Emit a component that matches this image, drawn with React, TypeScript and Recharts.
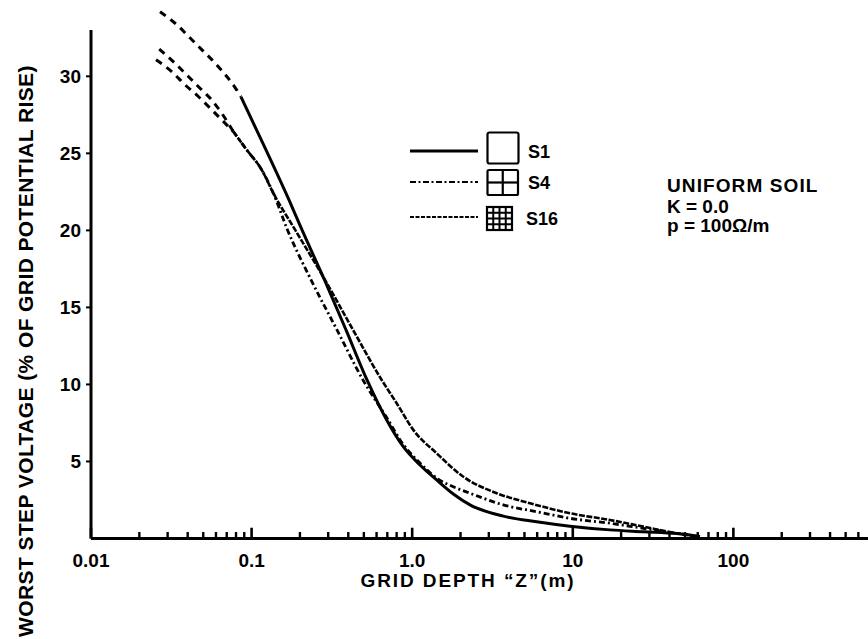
import React from 'react';
import { LineChart, Line, XAxis, YAxis, ReferenceLine, Legend } from 'recharts';

// ---------- data (grid depth in m, worst step voltage in % of GPR) ----------
const S1_EXT_DEPTH = [0.0269, 0.0348, 0.0413, 0.0491, 0.0567, 0.0654, 0.0799, 0.0859];
const S1_EXT_VOLT = [34.19, 33.28, 32.5, 31.72, 31.07, 30.36, 29.19, 28.67];

const S1_DEPTH = [0.0859, 0.1229, 0.1709, 0.206, 0.2844, 0.3871, 0.5233, 0.6937, 0.88, 1.118, 1.42, 1.803, 2.291, 3.691, 5.96, 9.61, 17.04, 27.5, 44.4, 61.9];
const S1_VOLT = [28.67, 25.23, 21.98, 20.03, 16.79, 13.54, 10.29, 7.69, 5.96, 4.77, 3.8, 2.89, 2.18, 1.45, 1.09, 0.8, 0.56, 0.44, 0.32, 0.13];

const S4_EXT_DEPTH = [0.0266, 0.0325, 0.0394, 0.0477, 0.0564, 0.0651, 0.0769];
const S4_EXT_VOLT = [31.77, 30.96, 30.1, 29.23, 28.47, 27.61, 26.42];

const S4_DEPTH = [0.0769, 0.0932, 0.1156, 0.1365, 0.1673, 0.2344, 0.3402, 0.4938, 0.6937, 0.88, 1.118, 1.42, 1.803, 2.291, 3.691, 5.96, 9.61, 17.04, 27.5, 44.4, 61.9];
const S4_VOLT = [26.42, 25.23, 23.93, 22.42, 20.03, 16.79, 13.54, 10.29, 7.85, 6.1, 4.9, 3.92, 3.36, 2.94, 2.18, 1.74, 1.31, 0.99, 0.66, 0.34, 0.13];

const S16_EXT_DEPTH = [0.0254, 0.0318, 0.0385, 0.0466, 0.0551, 0.0651, 0.0769];
const S16_EXT_VOLT = [31.07, 30.31, 29.45, 28.69, 27.94, 27.18, 26.42];

const S16_DEPTH = [0.0769, 0.0932, 0.1156, 0.1365, 0.1868, 0.2864, 0.428, 0.6457, 0.8006, 1.016, 1.42, 2.081, 3.359, 5.414, 9.61, 17.04, 27.5, 44.4, 61.9];
const S16_VOLT = [26.42, 25.23, 23.93, 22.42, 20.03, 16.79, 13.54, 10.29, 8.78, 7.05, 5.53, 4.01, 2.94, 2.29, 1.64, 1.2, 0.77, 0.34, 0.13];

const DECADE_TICKS = [0.01, 0.1, 1, 10, 100];
const DECADE_LABELS = ['0.01', '0.1', '1.0', '10', '100'];
const MINOR_MULTIPLIERS = [2, 3, 4, 5, 6, 7, 8, 9];
const Y_TICKS = [5, 10, 15, 20, 25, 30];
const X_DOMAIN: [number, number] = [0.01, 689];
const Y_DOMAIN: [number, number] = [0, 34.5];
const Y_AXIS_TOP = 33;
const MAJOR_TICK_LEN = 0.7; // in axis units (≈11px)
const MINOR_TICK_LEN = 0.42; // in axis units (≈6.5px)

const SERIES_NAMES = ['S1', 'S4', 'S16'];
const NOTE_LINES = ['UNIFORM SOIL', 'K = 0.0', 'p = 100\u03A9/m'];
const X_TITLE = 'GRID DEPTH \u201CZ\u201D(m)';
const Y_TITLE = 'WORST STEP VOLTAGE (% OF GRID POTENTIAL RISE)';

// ---------- helpers ----------
const toPoints = (xs: number[], ys: number[]) => xs.map((x, i) => ({ depth: x, volt: ys[i] }));

const s1Ext = toPoints(S1_EXT_DEPTH, S1_EXT_VOLT);
const s1 = toPoints(S1_DEPTH, S1_VOLT);
const s4Ext = toPoints(S4_EXT_DEPTH, S4_EXT_VOLT);
const s4 = toPoints(S4_DEPTH, S4_VOLT);
const s16Ext = toPoints(S16_EXT_DEPTH, S16_EXT_VOLT);
const s16 = toPoints(S16_DEPTH, S16_VOLT);

const MINOR_TICKS: number[] = [];
DECADE_TICKS.forEach((d) => {
  MINOR_MULTIPLIERS.forEach((m) => {
    const v = +(d * m).toPrecision(3);
    if (v <= X_DOMAIN[1]) MINOR_TICKS.push(v);
  });
});

const FONT = "'Liberation Sans', Arial, Helvetica, sans-serif";
const INK = '#000';

const XTick = (props: any) => {
  const { x, y, payload } = props;
  const v = payload.value as number;
  const idx = DECADE_TICKS.findIndex((d) => Math.abs(d - v) / d < 1e-6);
  if (idx < 0) return <g />;
  return (
    <text x={x} y={y + 28.5} textAnchor="middle" fontFamily={FONT} fontWeight="bold" fontSize={19} fill={INK}>
      {DECADE_LABELS[idx]}
    </text>
  );
};

const XTitle = () => (
  <text x={468} y={587} textAnchor="middle" fontFamily={FONT} fontWeight="bold" fontSize={19} letterSpacing={1.9} fill={INK}>
    {X_TITLE}
  </text>
);

const YTitle = () => (
  <text
    x={32.5}
    y={351}
    transform="rotate(-90 32.5 351)"
    textAnchor="middle"
    fontFamily={FONT}
    fontWeight="bold"
    fontSize={21}
    letterSpacing={0.4}
    fill={INK}
  >
    {Y_TITLE}
  </text>
);

const LegendAndNote = () => {
  const lineX1 = 410;
  const lineX2 = 478;
  const textStyle = { fontFamily: FONT, fontWeight: 'bold' as const, fontSize: 18, fill: INK };
  const s16Box = { x: 487, y: 207, w: 25, h: 23 };
  return (
    <svg width={868} height={639} style={{ display: 'block' }}>
      {/* S1 */}
      <line x1={lineX1} x2={lineX2} y1={151} y2={151} stroke={INK} strokeWidth={3} />
      <rect x={487.5} y={132.5} width={31} height={31} rx={2} fill="none" stroke={INK} strokeWidth={2.2} />
      <text x={528} y={157.5} {...textStyle}>{SERIES_NAMES[0]}</text>
      {/* S4 */}
      <line x1={lineX1} x2={lineX2} y1={182} y2={182} stroke={INK} strokeWidth={2.2} strokeDasharray="6 2.5 2 2.5" />
      <rect x={487.5} y={170} width={30.5} height={25} rx={1.5} fill="none" stroke={INK} strokeWidth={2.2} />
      <line x1={502.75} x2={502.75} y1={170} y2={195} stroke={INK} strokeWidth={2.2} />
      <line x1={487.5} x2={518} y1={182.5} y2={182.5} stroke={INK} strokeWidth={2.2} />
      <text x={528} y={189} {...textStyle}>{SERIES_NAMES[1]}</text>
      {/* S16 */}
      <line x1={lineX1} x2={lineX2} y1={217} y2={217} stroke={INK} strokeWidth={2.2} strokeDasharray="4 1.5" />
      <rect x={s16Box.x} y={s16Box.y} width={s16Box.w} height={s16Box.h} fill="none" stroke={INK} strokeWidth={2.2} />
      {[1, 2, 3].map((k) => (
        <g key={k}>
          <line
            x1={s16Box.x + (s16Box.w * k) / 4}
            x2={s16Box.x + (s16Box.w * k) / 4}
            y1={s16Box.y}
            y2={s16Box.y + s16Box.h}
            stroke={INK}
            strokeWidth={2}
          />
          <line
            x1={s16Box.x}
            x2={s16Box.x + s16Box.w}
            y1={s16Box.y + (s16Box.h * k) / 4}
            y2={s16Box.y + (s16Box.h * k) / 4}
            stroke={INK}
            strokeWidth={2}
          />
        </g>
      ))}
      <text x={526} y={224.5} {...textStyle}>{SERIES_NAMES[2]}</text>
      {/* note */}
      <text x={667} y={192} fontFamily={FONT} fontWeight="bold" fontSize={19} letterSpacing={1.1} fill={INK}>
        {NOTE_LINES[0]}
      </text>
      <text x={667} y={213} fontFamily={FONT} fontWeight="bold" fontSize={19} fill={INK}>
        {NOTE_LINES[1]}
      </text>
      <text x={667} y={232} fontFamily={FONT} fontWeight="bold" fontSize={19} fill={INK}>
        {NOTE_LINES[2]}
      </text>
    </svg>
  );
};

export default function App() {
  return (
    <div style={{ position: 'absolute', left: 0, top: 0, width: 868, height: 639, background: '#fff' }}>
      <LineChart width={868} height={639} margin={{ top: 7, right: 0, bottom: 0, left: 0 }}>
        <XAxis
          dataKey="depth"
          type="number"
          scale="log"
          domain={X_DOMAIN}
          allowDataOverflow
          ticks={DECADE_TICKS}
          interval={0}
          tick={<XTick />}
          tickLine={false}
          tickSize={0}
          tickMargin={0}
          height={100.5}
          axisLine={{ stroke: INK, strokeWidth: 3 }}
          label={<XTitle />}
        />
        <YAxis
          dataKey="volt"
          type="number"
          domain={Y_DOMAIN}
          ticks={Y_TICKS}
          interval={0}
          width={91}
          axisLine={false}
          tickSize={5}
          tickMargin={5}
          tickLine={{ stroke: INK, strokeWidth: 2 }}
          tick={{ fill: INK, fontSize: 19, fontWeight: 'bold', fontFamily: FONT }}
          label={<YTitle />}
        />
        <ReferenceLine
          segment={[
            { x: X_DOMAIN[0], y: 0 },
            { x: X_DOMAIN[0], y: Y_AXIS_TOP },
          ]}
          stroke={INK}
          strokeWidth={3}
          ifOverflow="visible"
        />
        {DECADE_TICKS.map((v) => (
          <ReferenceLine
            key={`maj-${v}`}
            segment={[
              { x: v, y: 0 },
              { x: v, y: MAJOR_TICK_LEN },
            ]}
            stroke={INK}
            strokeWidth={2.6}
            ifOverflow="visible"
          />
        ))}
        {MINOR_TICKS.map((v) => (
          <ReferenceLine
            key={`min-${v}`}
            segment={[
              { x: v, y: 0 },
              { x: v, y: MINOR_TICK_LEN },
            ]}
            stroke={INK}
            strokeWidth={2.4}
            ifOverflow="visible"
          />
        ))}
        <Legend
          layout="vertical"
          align="center"
          verticalAlign="middle"
          content={<LegendAndNote />}
          wrapperStyle={{ position: 'absolute', left: 0, top: 0, width: 868, height: 639, pointerEvents: 'none' }}
        />
        <Line data={s16Ext} dataKey="volt" type="monotone" stroke={INK} strokeWidth={3} strokeDasharray="7 6" dot={false} activeDot={false} isAnimationActive={false} legendType="none" />
        <Line data={s4Ext} dataKey="volt" type="monotone" stroke={INK} strokeWidth={3} strokeDasharray="7 6" dot={false} activeDot={false} isAnimationActive={false} legendType="none" />
        <Line data={s1Ext} dataKey="volt" type="monotone" stroke={INK} strokeWidth={3} strokeDasharray="7 6" dot={false} activeDot={false} isAnimationActive={false} legendType="none" />
        <Line data={s16} name="S16" dataKey="volt" type="monotone" stroke={INK} strokeWidth={2.6} strokeDasharray="6 1.5" dot={false} activeDot={false} isAnimationActive={false} />
        <Line data={s4} name="S4" dataKey="volt" type="monotone" stroke={INK} strokeWidth={2.8} strokeDasharray="6 3 2 3" dot={false} activeDot={false} isAnimationActive={false} />
        <Line data={s1} name="S1" dataKey="volt" type="monotone" stroke={INK} strokeWidth={3} dot={false} activeDot={false} isAnimationActive={false} />
      </LineChart>
    </div>
  );
}
